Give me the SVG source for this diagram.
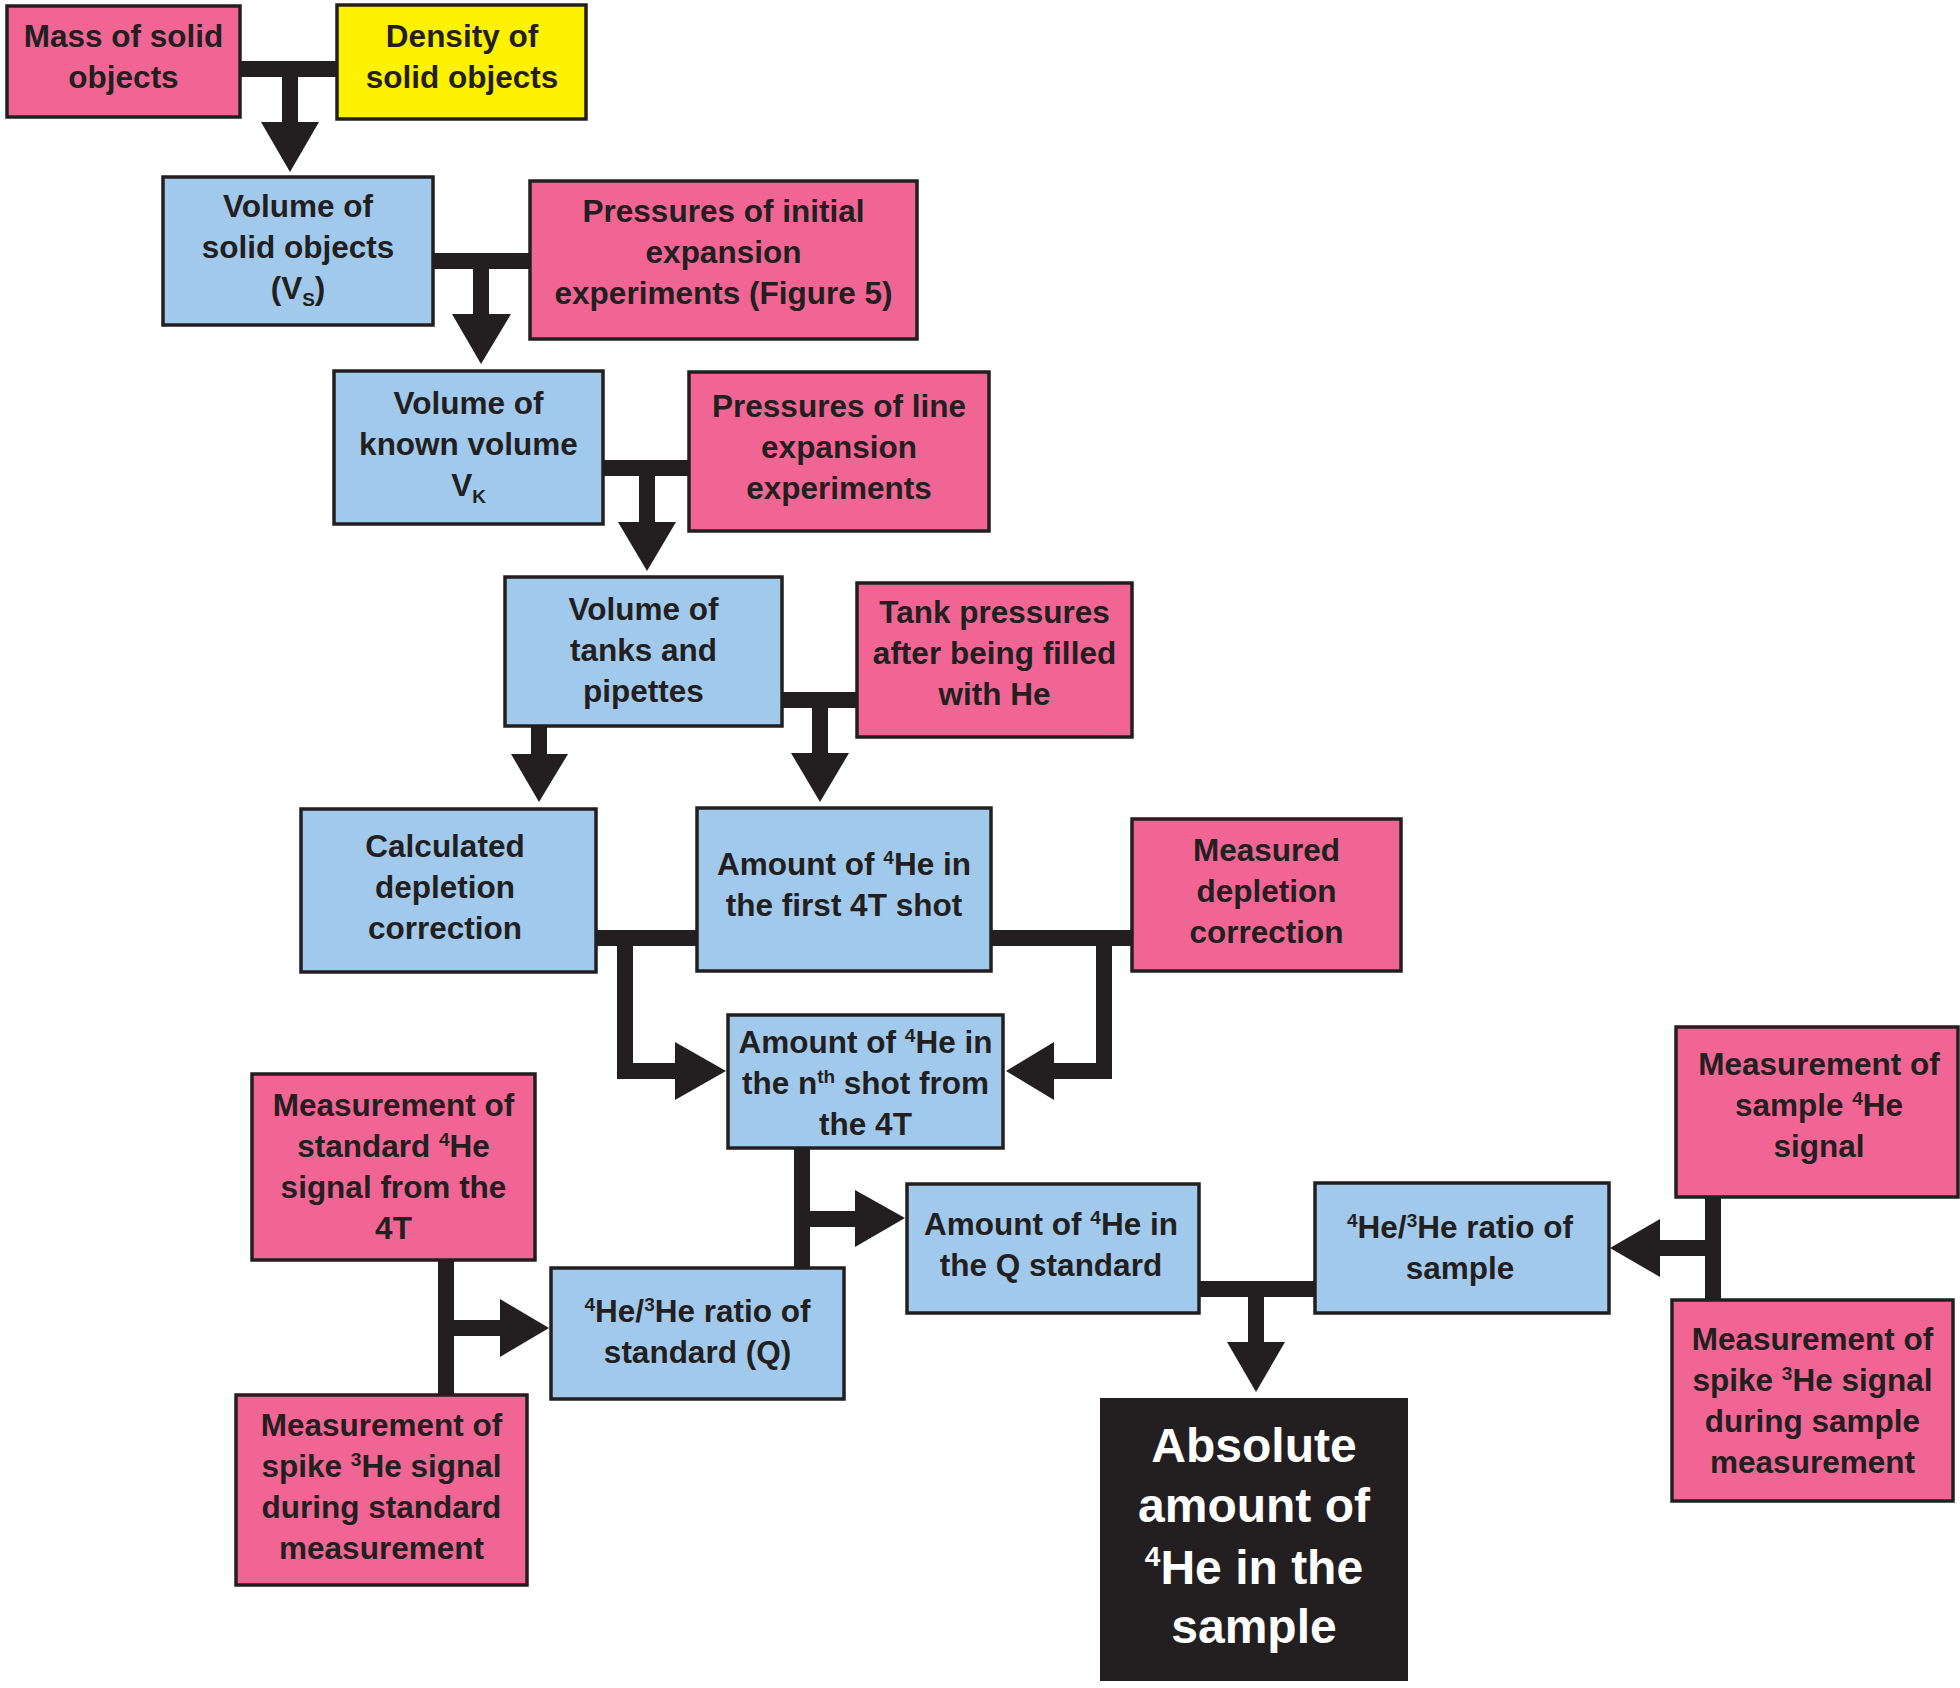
<svg xmlns="http://www.w3.org/2000/svg" width="1960" height="1688" viewBox="0 0 1960 1688">
<style>
.box{stroke:#231f20;stroke-width:3.5}
.pink{fill:#F06594}
.blue{fill:#A0C9EC}
.yellow{fill:#FFF200}
.dark{fill:#231F20}
text{font-family:"Liberation Sans",Arial,sans-serif;font-weight:bold;font-size:31.5px;text-anchor:middle;fill:#231f20}
.big{font-size:48px;fill:#ffffff}
.sup{font-size:19px}
.bsup{font-size:28px}
.line{fill:none;stroke:#231f20;stroke-width:16;stroke-linejoin:miter;stroke-linecap:butt}
.head{fill:#231f20;stroke:none}
</style>
<rect width="1960" height="1688" fill="#ffffff"/>
<g id="connectors">
<path class="line" d="M240,69 H337 M290,69 V123"/>
<polygon class="head" points="261,122 319,122 290,172"/>
<path class="line" d="M433,261 H530 M481,261 V315"/>
<polygon class="head" points="452,314 511,314 481,364"/>
<path class="line" d="M603,468 H689 M647,468 V523"/>
<polygon class="head" points="618,522 676,522 647,571"/>
<path class="line" d="M782,700 H857 M820,700 V754"/>
<polygon class="head" points="791,753 849,753 820,802"/>
<path class="line" d="M539,726 V755"/>
<polygon class="head" points="511,754 568,754 539,802"/>
<path class="line" d="M596,938 H697 M625,938 V1071 H676"/>
<polygon class="head" points="675,1042 675,1100 726,1071"/>
<path class="line" d="M991,938 H1132 M1104,938 V1071 H1053"/>
<polygon class="head" points="1054,1042 1054,1100 1006,1071"/>
<path class="line" d="M802,1148 V1268 M802,1219 H856"/>
<polygon class="head" points="855,1190 855,1247 905,1218"/>
<path class="line" d="M446,1260 V1395 M446,1328 H501"/>
<polygon class="head" points="500,1299 500,1357 549,1328"/>
<path class="line" d="M1199,1289 H1315 M1256,1289 V1343"/>
<polygon class="head" points="1227,1342 1285,1342 1256,1392"/>
<path class="line" d="M1713,1197 V1300 M1713,1248 H1659"/>
<polygon class="head" points="1660,1219 1660,1277 1610,1248"/>
</g>
<g id="mass"><rect class="box pink" x="7" y="6" width="233" height="111"/>
<text x="123.5" y="47">Mass of solid</text><text x="123.5" y="88">objects</text></g>
<g id="density"><rect class="box yellow" x="337" y="5" width="249" height="114"/>
<text x="462" y="47">Density of</text><text x="462" y="88">solid objects</text></g>
<g id="volume-solid"><rect class="box blue" x="163" y="177" width="270" height="148"/>
<text x="298" y="217">Volume of</text><text x="298" y="258">solid objects</text><text x="298" y="299">(V<tspan class="sup" dy="7">S</tspan><tspan dy="-7">)</tspan></text></g>
<g id="pressures-initial"><rect class="box pink" x="530" y="181" width="387" height="158"/>
<text x="723.5" y="222">Pressures of initial</text><text x="723.5" y="263">expansion</text><text x="723.5" y="304">experiments (Figure 5)</text></g>
<g id="volume-known"><rect class="box blue" x="334" y="371" width="269" height="153"/>
<text x="468.5" y="414">Volume of</text><text x="468.5" y="455">known volume</text><text x="468.5" y="496">V<tspan class="sup" dy="7">K</tspan></text></g>
<g id="pressures-line"><rect class="box pink" x="689" y="372" width="300" height="159"/>
<text x="839" y="417">Pressures of line</text><text x="839" y="458">expansion</text><text x="839" y="499">experiments</text></g>
<g id="volume-tanks"><rect class="box blue" x="505" y="577" width="277" height="149"/>
<text x="643.5" y="620">Volume of</text><text x="643.5" y="661">tanks and</text><text x="643.5" y="702">pipettes</text></g>
<g id="tank-pressures"><rect class="box pink" x="857" y="583" width="275" height="154"/>
<text x="994.5" y="623">Tank pressures</text><text x="994.5" y="664">after being filled</text><text x="994.5" y="705">with He</text></g>
<g id="calculated-depletion"><rect class="box blue" x="301" y="809" width="295" height="163"/>
<text x="445" y="857">Calculated</text><text x="445" y="898">depletion</text><text x="445" y="939">correction</text></g>
<g id="amount-first"><rect class="box blue" x="697" y="808" width="294" height="163"/>
<text x="844" y="875">Amount of <tspan class="sup" dy="-11">4</tspan><tspan dy="11">He in</tspan></text><text x="844" y="916">the first 4T shot</text></g>
<g id="measured-depletion"><rect class="box pink" x="1132" y="819" width="269" height="152"/>
<text x="1266.5" y="861">Measured</text><text x="1266.5" y="902">depletion</text><text x="1266.5" y="943">correction</text></g>
<g id="amount-nth"><rect class="box blue" x="728" y="1015" width="275" height="133"/>
<text x="865.5" y="1053">Amount of <tspan class="sup" dy="-11">4</tspan><tspan dy="11">He in</tspan></text><text x="865.5" y="1094">the n<tspan class="sup" dy="-11">th</tspan><tspan dy="11"> shot from</tspan></text><text x="865.5" y="1135">the 4T</text></g>
<g id="measurement-standard"><rect class="box pink" x="252" y="1074" width="283" height="186"/>
<text x="393.5" y="1116">Measurement of</text><text x="393.5" y="1157">standard <tspan class="sup" dy="-11">4</tspan><tspan dy="11">He</tspan></text><text x="393.5" y="1198">signal from the</text><text x="393.5" y="1239">4T</text></g>
<g id="ratio-standard"><rect class="box blue" x="551" y="1268" width="293" height="131"/>
<text x="697.5" y="1322"><tspan class="sup" dy="-11">4</tspan><tspan dy="11">He/</tspan><tspan class="sup" dy="-11">3</tspan><tspan dy="11">He ratio of</tspan></text><text x="697.5" y="1363">standard (Q)</text></g>
<g id="amount-q"><rect class="box blue" x="907" y="1184" width="292" height="129"/>
<text x="1051" y="1235">Amount of <tspan class="sup" dy="-11">4</tspan><tspan dy="11">He in</tspan></text><text x="1051" y="1276">the Q standard</text></g>
<g id="ratio-sample"><rect class="box blue" x="1315" y="1183" width="294" height="130"/>
<text x="1460" y="1238"><tspan class="sup" dy="-11">4</tspan><tspan dy="11">He/</tspan><tspan class="sup" dy="-11">3</tspan><tspan dy="11">He ratio of</tspan></text><text x="1460" y="1279">sample</text></g>
<g id="measurement-sample"><rect class="box pink" x="1676" y="1027" width="282" height="170"/>
<text x="1819" y="1075">Measurement of</text><text x="1819" y="1116">sample <tspan class="sup" dy="-11">4</tspan><tspan dy="11">He</tspan></text><text x="1819" y="1157">signal</text></g>
<g id="spike-sample"><rect class="box pink" x="1672" y="1300" width="281" height="201"/>
<text x="1812.5" y="1350">Measurement of</text><text x="1812.5" y="1391">spike <tspan class="sup" dy="-11">3</tspan><tspan dy="11">He signal</tspan></text><text x="1812.5" y="1432">during sample</text><text x="1812.5" y="1473">measurement</text></g>
<g id="spike-standard"><rect class="box pink" x="236" y="1395" width="291" height="190"/>
<text x="381.5" y="1436">Measurement of</text><text x="381.5" y="1477">spike <tspan class="sup" dy="-11">3</tspan><tspan dy="11">He signal</tspan></text><text x="381.5" y="1518">during standard</text><text x="381.5" y="1559">measurement</text></g>
<g id="absolute"><rect class="dark" x="1100" y="1398" width="308" height="283"/>
<text class="big" x="1254" y="1462">Absolute</text><text class="big" x="1254" y="1522">amount of</text><text class="big" x="1254" y="1584"><tspan class="bsup" dy="-18">4</tspan><tspan dy="18">He in the</tspan></text><text class="big" x="1254" y="1643">sample</text></g>
</svg>
